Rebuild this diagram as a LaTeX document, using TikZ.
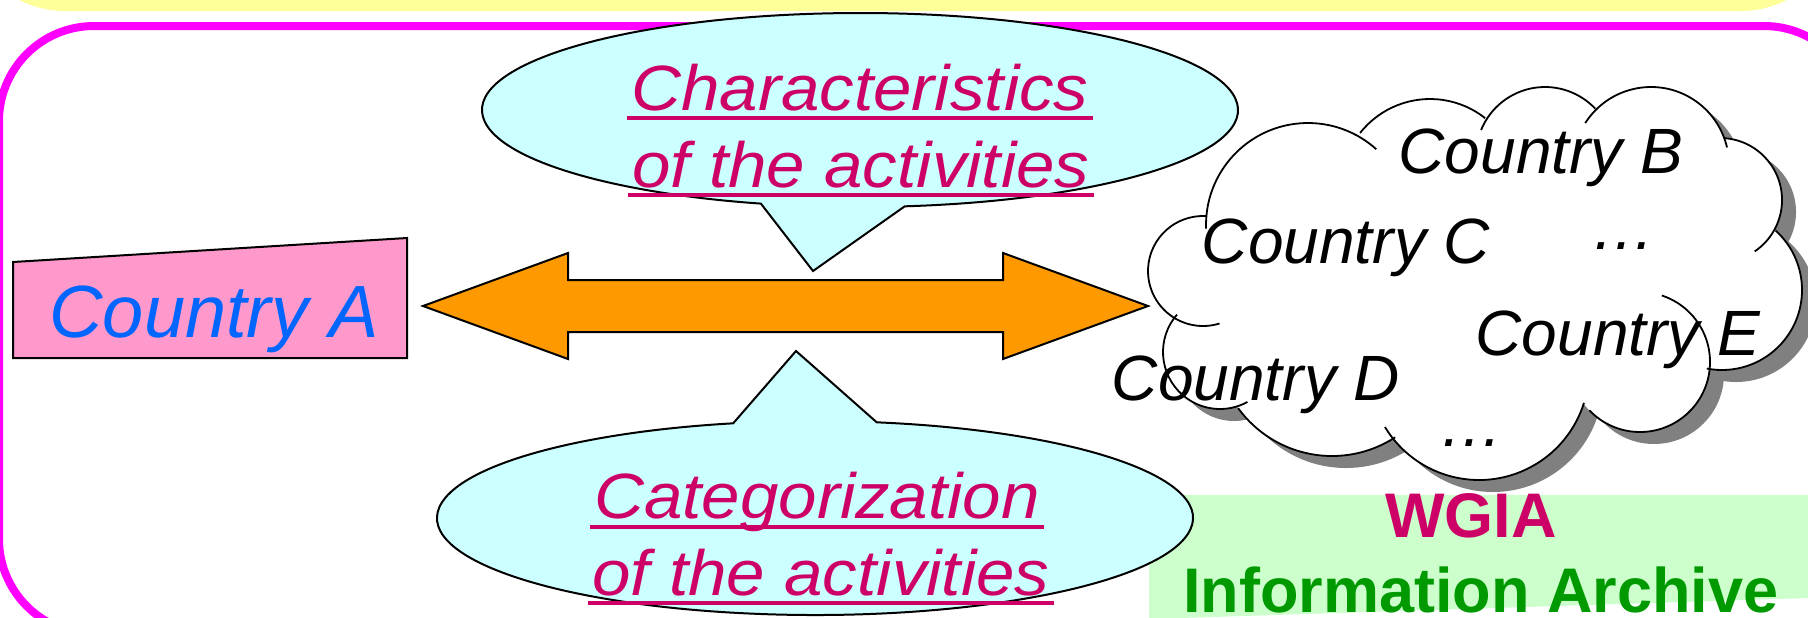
\documentclass[tikz,border=0pt]{standalone}
\usepackage{fontspec}
\setmainfont{Liberation Sans}
\newfontfamily\widefont[FakeStretch=1.08]{Liberation Sans}
\usetikzlibrary{calc}
\definecolor{bandyellow}{HTML}{FFFF99}
\definecolor{framemagenta}{HTML}{FF00FF}
\definecolor{calloutcyan}{HTML}{CCFFFF}
\definecolor{countrypink}{HTML}{FF99CC}
\definecolor{countryblue}{HTML}{0066FF}
\definecolor{arroworange}{HTML}{FF9900}
\definecolor{callpink}{HTML}{CC0066}
\definecolor{archivegreen}{HTML}{CCFFCC}
\definecolor{archivetext}{HTML}{009900}
\definecolor{shadowgray}{HTML}{808080}
\newcommand\lobelist{1203/271/55,1308/225/102,1430/188/89,1545/156/69,1651/165/78,1720/200/62,1722/290/80,1640/362/70,1479/370/110,1332/340/116,1220/352/57}
\newcommand\lobecore{(1203,271) -- (1308,225) -- (1430,188) -- (1545,156) -- (1651,165) -- (1720,200) -- (1722,290) -- (1640,362) -- (1479,370) -- (1332,340) -- (1220,352) -- cycle}
\begin{document}
\begin{tikzpicture}[x=0.5pt,y=-0.5pt,
  frame/.style={draw=framemagenta,line width=4pt,rounded corners=47.5pt},
  callout/.style={fill=calloutcyan,draw=black,line width=1pt,line join=miter},
  calltext/.style={anchor=base,inner sep=0pt,text=callpink,font=\widefont\itshape\fontsize{32}{36}\selectfont},
  uline/.style={draw=callpink,line width=2pt},
  countrytext/.style={anchor=base,inner sep=0pt,font=\itshape\fontsize{32}{38}\selectfont},
  cloudline/.style={draw=black,line width=0.9pt},
  blockarrow/.style={fill=arroworange,draw=black,line width=1pt,line join=miter},
]
\useasboundingbox (0,0) rectangle (1808,617);
\begin{scope}
\clip (0,0) rectangle (1808,617);
% top band and frame
\fill[bandyellow,rounded corners=50pt] (-35,-200) rectangle (1841,11);
\draw[frame] (-1,26) rectangle (1859,634);
% archive box
\fill[archivegreen] (1149,495) -- (1808,495) -- (1808,598) -- (1149,619) -- cycle;
% Country A
\filldraw[fill=countrypink,draw=black,line width=1pt] (13,262) -- (407,238) -- (407,358) -- (13,358) -- cycle;
\node[countrytext,text=countryblue,font=\itshape\fontsize{37}{44}\selectfont] (ca) at (214,337) {Country A};
% double arrow
\draw[blockarrow] (423,306) -- (568,253) -- (568,280) -- (1003,280) -- (1003,253) -- (1148,306) -- (1003,359) -- (1003,332) -- (568,332) -- (568,359) -- cycle;
% top callout
\coordinate (c1) at (860,110);
\coordinate (tip1) at (813,271);
\draw[callout] ($(c1)+(83.2:378 and 97)$) arc[start angle=83.2,end angle=-254.8,x radius=378,y radius=97] -- (tip1) -- cycle;
\node[calltext] (ch1) at (860,110) {Characteristics};
\node[calltext] (ch2) at (861,187) {of the activities};
\draw[uline] ($(ch1.base west)+(-4,8)$) -- ($(ch1.base east)+(4,8)$);
\draw[uline] ($(ch2.base west)+(-4,8)$) -- ($(ch2.base east)+(4,8)$);
% bottom callout
\coordinate (c2) at (815,518);
\coordinate (tip2) at (796,351);
\draw[callout] ($(c2)+(-80.6:378 and 97)$) arc[start angle=-80.6,end angle=257.5,x radius=378,y radius=97] -- (tip2) -- cycle;
\node[calltext] (cat1) at (817,518) {Categorization};
\node[calltext] (cat2) at (821,595) {of the activities};
\draw[uline] ($(cat1.base west)+(-4,9)$) -- ($(cat1.base east)+(4,9)$);
\draw[uline] ($(cat2.base west)+(-4,8)$) -- ($(cat2.base east)+(4,8)$);
% cloud shadow
\begin{scope}[shift={(14,12)}]
\fill[shadowgray] \foreach \x/\y/\r in \lobelist {(\x,\y) circle[radius=\r]};
\fill[shadowgray] \lobecore;
\end{scope}
% cloud body
\fill[white] \foreach \x/\y/\r in \lobelist {(\x,\y) circle[radius=\r]};
\fill[white] \lobecore;
\foreach \x/\y/\r/\a/\b in {1203/271/55/-87/-287.5,1308/225/102/-182/-48,1430/188/89/-141.8/-51.7,1545/156/69/-157.9/-43.3,1651/165/78/-147.5/-13,1720/200/62/-85.4/56,1722/290/80/-48/101,1640/362/70/136.4/-71.8,1479/370/110/148.8/17.4,1332/340/116/144/57,1220/352/57/221/61.3}
  {\draw[cloudline] ($(\x,\y)+(\a:\r)$) arc[start angle=\a,end angle=\b,radius=\r];}
% cloud texts
\node[countrytext] (cb) at (1541,173) {Country B};
\node[countrytext] (cc) at (1346,263) {Country C};
\node[countrytext] (dots1) at (1623,249) {…};
\node[countrytext] (ce) at (1618,355) {Country E};
\node[countrytext] (cd) at (1256,400) {Country D};
\node[countrytext] (dots2) at (1471,446) {…};
% archive texts
\node[anchor=base,inner sep=0pt,text=callpink,font=\bfseries\fontsize{31.5}{36}\selectfont] (wgia) at (1471,537) {WGIA};
\node[anchor=base,inner sep=0pt,text=archivetext,font=\bfseries\fontsize{31.5}{36}\selectfont] (archive) at (1481,612) {Information Archive};
\end{scope}
\end{tikzpicture}
\end{document}
